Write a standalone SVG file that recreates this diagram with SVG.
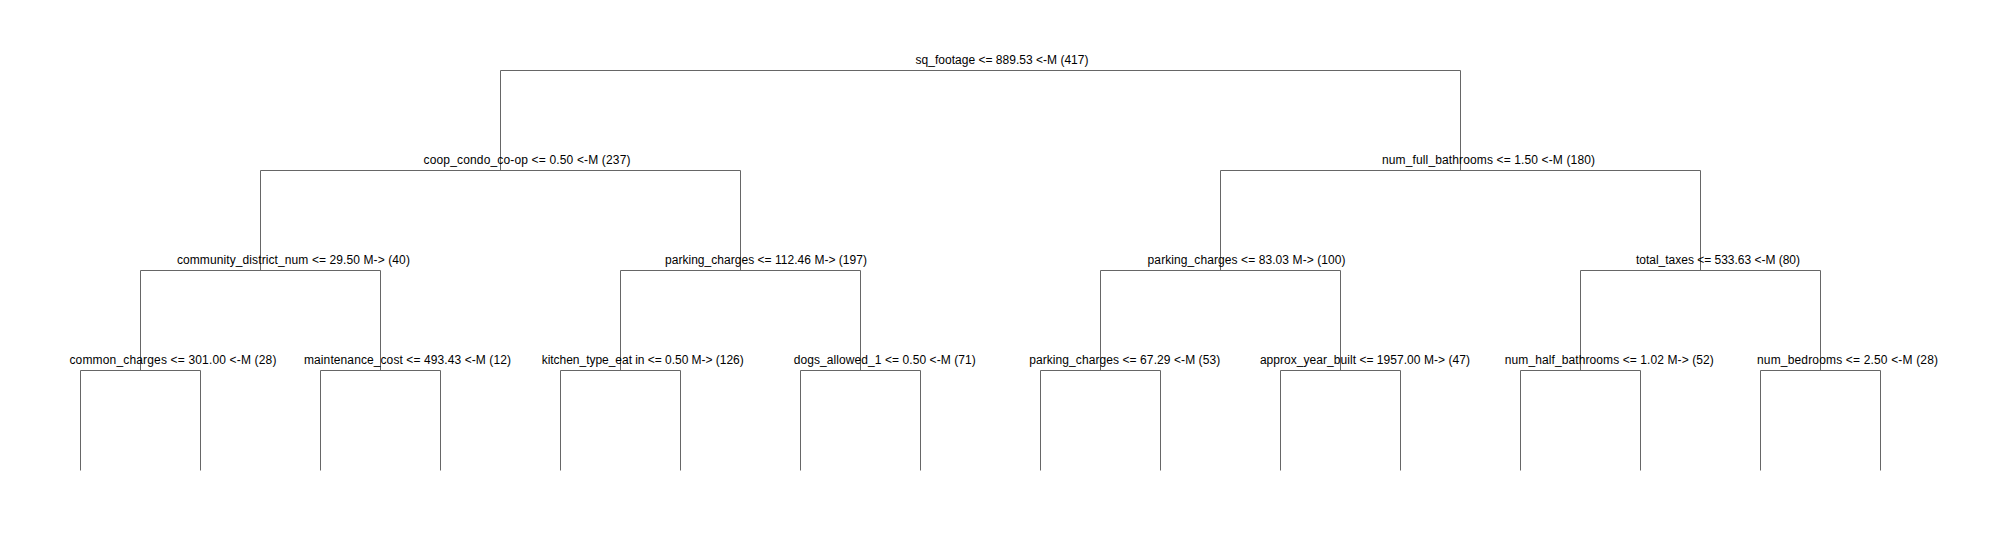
<svg xmlns="http://www.w3.org/2000/svg" width="2006" height="540" viewBox="0 0 2006 540">
<style>
.bg{fill:#ffffff}
.edge{fill:none;stroke:#666666;stroke-width:1}
.lbl{font-family:"Liberation Sans",Arial,Helvetica,sans-serif;font-size:12px;fill:#000000;text-anchor:middle}
</style>
<rect class="bg" x="0" y="0" width="2006" height="540"/>
<g id="connectors" transform="translate(0.5,0.5)">
<path class="edge" d="M500 170 V70 H1460 V170"/>
<path class="edge" d="M260 270 V170 H740 V270"/>
<path class="edge" d="M1220 270 V170 H1700 V270"/>
<path class="edge" d="M140 370 V270 H380 V370"/>
<path class="edge" d="M620 370 V270 H860 V370"/>
<path class="edge" d="M1100 370 V270 H1340 V370"/>
<path class="edge" d="M1580 370 V270 H1820 V370"/>
<path class="edge" d="M80 470 V370 H200 V470"/>
<path class="edge" d="M320 470 V370 H440 V470"/>
<path class="edge" d="M560 470 V370 H680 V470"/>
<path class="edge" d="M800 470 V370 H920 V470"/>
<path class="edge" d="M1040 470 V370 H1160 V470"/>
<path class="edge" d="M1280 470 V370 H1400 V470"/>
<path class="edge" d="M1520 470 V370 H1640 V470"/>
<path class="edge" d="M1760 470 V370 H1880 V470"/>
</g>
<g id="node-root"><text class="lbl" x="1002" y="64" textLength="173">sq_footage &lt;= 889.53 &lt;-M (417)</text></g>
<g id="node-coop"><text class="lbl" x="527" y="164" textLength="207">coop_condo_co-op &lt;= 0.50 &lt;-M (237)</text></g>
<g id="node-fullbath"><text class="lbl" x="1488.5" y="164" textLength="213">num_full_bathrooms &lt;= 1.50 &lt;-M (180)</text></g>
<g id="node-district"><text class="lbl" x="293.4" y="264" textLength="233">community_district_num &lt;= 29.50 M-&gt; (40)</text></g>
<g id="node-parking112"><text class="lbl" x="766" y="264" textLength="202">parking_charges &lt;= 112.46 M-&gt; (197)</text></g>
<g id="node-parking83"><text class="lbl" x="1246.6" y="264" textLength="198">parking_charges &lt;= 83.03 M-&gt; (100)</text></g>
<g id="node-taxes"><text class="lbl" x="1718" y="264" textLength="164">total_taxes &lt;= 533.63 &lt;-M (80)</text></g>
<g id="node-common"><text class="lbl" x="172.9" y="364" textLength="207">common_charges &lt;= 301.00 &lt;-M (28)</text></g>
<g id="node-maint"><text class="lbl" x="407.5" y="364" textLength="207">maintenance_cost &lt;= 493.43 &lt;-M (12)</text></g>
<g id="node-kitchen"><text class="lbl" x="642.7" y="364" textLength="202">kitchen_type_eat in &lt;= 0.50 M-&gt; (126)</text></g>
<g id="node-dogs"><text class="lbl" x="884.8" y="364" textLength="182">dogs_allowed_1 &lt;= 0.50 &lt;-M (71)</text></g>
<g id="node-parking67"><text class="lbl" x="1124.7" y="364" textLength="191">parking_charges &lt;= 67.29 &lt;-M (53)</text></g>
<g id="node-yearbuilt"><text class="lbl" x="1364.9" y="364" textLength="210">approx_year_built &lt;= 1957.00 M-&gt; (47)</text></g>
<g id="node-halfbath"><text class="lbl" x="1609.3" y="364" textLength="209">num_half_bathrooms &lt;= 1.02 M-&gt; (52)</text></g>
<g id="node-bedrooms"><text class="lbl" x="1847.5" y="364" textLength="181">num_bedrooms &lt;= 2.50 &lt;-M (28)</text></g>
</svg>
